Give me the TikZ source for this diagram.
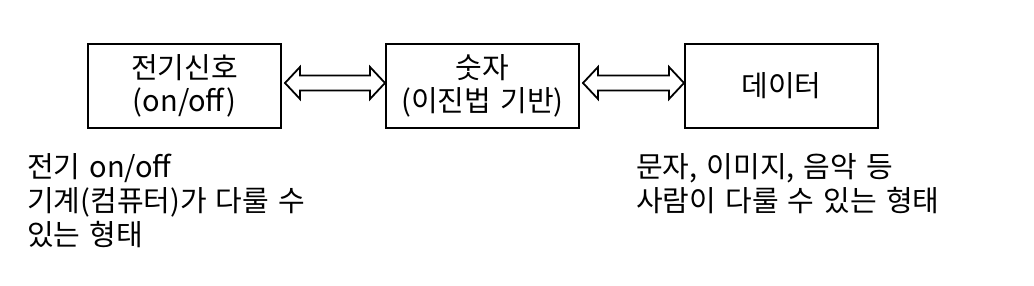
\documentclass[tikz,border=0pt]{standalone}
\usepackage{fontspec}
\setmainfont{Noto Sans CJK KR}[WordSpace={1.4}]
\begin{document}
\begin{tikzpicture}[x=1pt,y=-1pt,
  boxstyle/.style={draw=black,line width=2pt,minimum width=193pt,minimum height=84pt,inner sep=0pt,align=center,font=\fontsize{29}{33}\selectfont},
  notestyle/.style={anchor=north west,inner sep=0pt,align=left,font=\fontsize{29}{34}\selectfont},
  blockarrow/.style={draw=black,line width=1.8pt,fill=white,line join=miter}]
\useasboundingbox (0,0) rectangle (1034,286);
\node[boxstyle] (sig) at (184.5,86) {전기신호\\(on/off)};
\node[boxstyle] (num) at (482.5,86) {숫자\\(이진법 기반)};
\node[boxstyle] (dat) at (781.5,86) {데이터};
\coordinate (a1l) at ([xshift=3pt,yshift=3pt]sig.east);
\coordinate (a1r) at ([xshift=0pt,yshift=3pt]num.west);
\coordinate (a2l) at ([xshift=3pt,yshift=3pt]num.east);
\coordinate (a2r) at ([xshift=0pt,yshift=3pt]dat.west);
\foreach \l/\r in {a1l/a1r,a2l/a2r}{
  \draw[blockarrow] (\l) -- ([xshift=15pt,yshift=-16pt]\l) -- ([xshift=15pt,yshift=-7.5pt]\l)
    -- ([xshift=-15pt,yshift=-7.5pt]\r) -- ([xshift=-15pt,yshift=-16pt]\r) -- (\r)
    -- ([xshift=-15pt,yshift=16pt]\r) -- ([xshift=-15pt,yshift=7.5pt]\r)
    -- ([xshift=15pt,yshift=7.5pt]\l) -- ([xshift=15pt,yshift=16pt]\l) -- cycle;
}
\node[notestyle] (n1) at (27,153) {전기 on/off\\기계(컴퓨터)가 다룰 수\\있는 형태};
\node[notestyle] (n2) at (636,153) {문자, 이미지, 음악 등\\사람이 다룰 수 있는 형태};
\end{tikzpicture}
\end{document}
